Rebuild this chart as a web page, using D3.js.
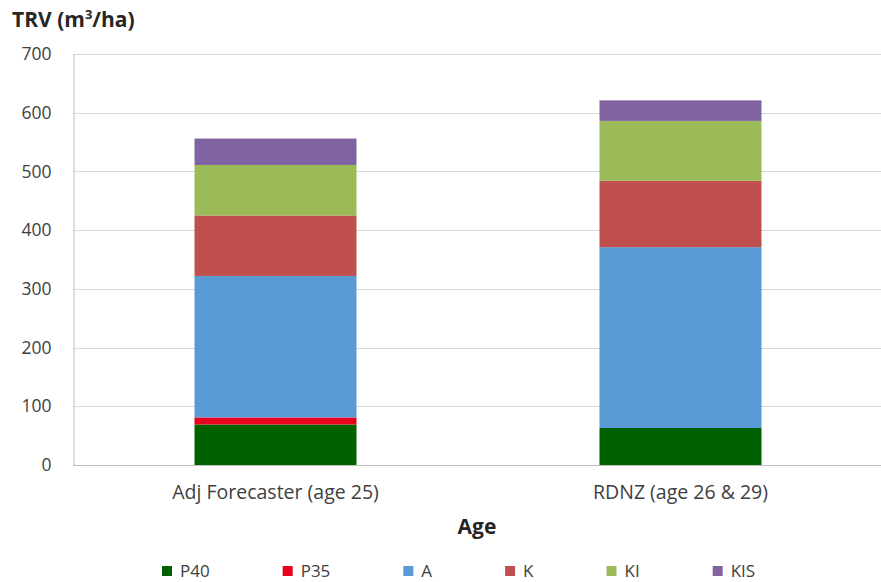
<!DOCTYPE html>
<html>
<head>
<meta charset="utf-8">
<script src="https://cdn.jsdelivr.net/npm/d3@7"></script>
<style>
  html, body { margin: 0; padding: 0; background: #ffffff; }
  svg { display: block; font-family: "Open Sans", "Noto Sans", sans-serif; }
</style>
</head>
<body>
<svg id="chart" width="881" height="582"></svg>
<script>
// Total recoverable volume by species group, two estimation sources
const categories = ["Adj Forecaster (age 25)", "RDNZ (age 26 & 29)"];
const seriesNames = ["P40", "P35", "A", "K", "KI", "KIS"];
const P40 = [69, 63];
const P35 = [12, 0];
const A   = [241, 308];
const K   = [103, 113];
const KI  = [86, 102];
const KIS = [45, 35];
const yTicks = [0, 100, 200, 300, 400, 500, 600, 700];
const seriesColors = ["#006100", "#e8001c", "#5b9bd5", "#c0504d", "#9bbb59", "#8064a2"];

const seriesValues = [P40, P35, A, K, KI, KIS];
const rows = categories.map((c, i) => {
  const r = { category: c };
  seriesNames.forEach((s, j) => { r[s] = seriesValues[j][i]; });
  return r;
});

const svg = d3.select("#chart");
const margin = { top: 54, right: 0, bottom: 117, left: 73 };
const width = 881, height = 582;
const plotH = height - margin.top - margin.bottom;
const textColor = "#404040";

const x = d3.scaleBand()
  .domain(categories)
  .range([margin.left, width - margin.right + 2])
  .paddingInner(0.6)
  .paddingOuter(0.3);

const y = d3.scaleLinear()
  .domain([0, 700])
  .range([margin.top + plotH, margin.top]);

// horizontal gridlines
svg.append("g")
  .selectAll("line")
  .data(yTicks.filter(t => t > 0))
  .join("line")
  .attr("x1", margin.left)
  .attr("x2", width)
  .attr("y1", d => Math.round(y(d)) + 0.5)
  .attr("y2", d => Math.round(y(d)) + 0.5)
  .attr("stroke", "#d9d9d9")
  .attr("stroke-width", 1);

// value axis
const yAxis = d3.axisLeft(y).tickValues(yTicks).tickSize(0).tickPadding(22);
const gy = svg.append("g")
  .attr("transform", `translate(${margin.left + 0.5},0)`)
  .call(yAxis);
gy.select(".domain").attr("stroke", "#bfbfbf");
gy.selectAll("text")
  .attr("fill", textColor)
  .style("font-size", "17.5px")
  .style("font-family", "'Open Sans', sans-serif");

// baseline
svg.append("line")
  .attr("x1", margin.left)
  .attr("x2", width)
  .attr("y1", Math.round(y(0)) + 0.5)
  .attr("y2", Math.round(y(0)) + 0.5)
  .attr("stroke", "#bfbfbf");

// stacked bars
const stacked = d3.stack().keys(seriesNames)(rows);
const color = d3.scaleOrdinal().domain(seriesNames).range(seriesColors);

svg.append("g")
  .selectAll("g")
  .data(stacked)
  .join("g")
  .attr("fill", d => color(d.key))
  .selectAll("rect")
  .data(d => d)
  .join("rect")
  .attr("x", d => x(d.data.category))
  .attr("width", x.bandwidth())
  .attr("y", d => y(d[1]))
  .attr("height", d => Math.max(0, y(d[0]) - y(d[1])));

// category axis labels
const xAxis = d3.axisBottom(x).tickSize(0).tickPadding(20);
const gx = svg.append("g")
  .attr("transform", `translate(0,${y(0)})`)
  .call(xAxis);
gx.select(".domain").remove();
gx.selectAll("text")
  .attr("fill", textColor)
  .style("font-size", "19.5px")
  .style("font-family", "'Open Sans', sans-serif");

// axis titles
svg.append("text")
  .attr("x", 12)
  .attr("y", 27)
  .attr("fill", "#262626")
  .style("font-size", "21px")
  .style("font-weight", "bold")
  .html('TRV (m<tspan dy="-8" font-size="13">3</tspan><tspan dy="8">/ha)</tspan>');

svg.append("text")
  .attr("x", (margin.left + width) / 2)
  .attr("y", 534)
  .attr("text-anchor", "middle")
  .attr("fill", "#262626")
  .style("font-size", "21px")
  .style("font-weight", "bold")
  .text("Age");

// legend
const legend = svg.append("g").attr("transform", "translate(162,566)");
let lx = 0;
seriesNames.forEach((s, i) => {
  const item = legend.append("g").attr("transform", `translate(${lx},0)`);
  item.append("rect").attr("width", 10).attr("height", 10).attr("fill", seriesColors[i]);
  const t = item.append("text")
    .attr("x", 18)
    .attr("y", 11)
    .attr("fill", textColor)
    .style("font-size", "17px")
    .text(s);
  lx += 18 + t.node().getComputedTextLength() + 73;
});
</script>
</body>
</html>
